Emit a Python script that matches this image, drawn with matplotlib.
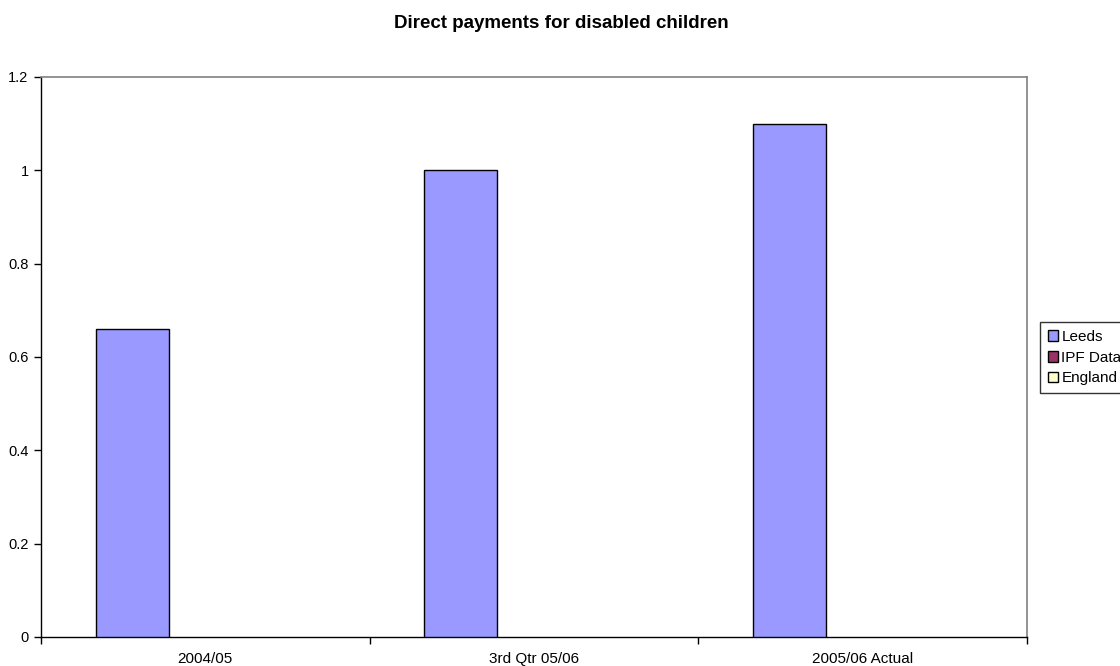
import numpy as np
import matplotlib
matplotlib.use("Agg")
import matplotlib.pyplot as plt
from matplotlib.ticker import FuncFormatter, FixedLocator
from matplotlib.patches import Patch

categories = ["2004/05", "3rd Qtr 05/06", "2005/06 Actual"]
leeds = [0.66, 1.0, 1.1]
ipf_data = [np.nan, np.nan, np.nan]
england = [np.nan, np.nan, np.nan]
series_names = ["Leeds", "IPF Data", "England"]
colors = ["#9999FF", "#993366", "#FFFFCC"]

plt.rcParams['font.family'] = ['Liberation Sans', 'DejaVu Sans']

fig = plt.figure(figsize=(11.2, 6.66), dpi=100)
ax = fig.add_axes([41/1120, 1-637/666, (1027-41)/1120, (637-77)/666])

n = len(categories)
centers = np.arange(n) + 0.5
bw = 1/4.5
for i, (vals, c) in enumerate(zip([leeds, ipf_data, england], colors)):
    v = np.array(vals, dtype=float)
    mask = ~np.isnan(v)
    ax.bar(centers[mask] + (i-1)*bw, v[mask], width=bw, color=c,
           edgecolor='black', linewidth=1.0, zorder=3)

ax.set_xlim(0, n)
ax.set_ylim(0, 1.2)
ax.set_yticks(np.arange(0, 1.21, 0.2))
ax.yaxis.set_major_formatter(FuncFormatter(lambda v, p: f"{v:g}"))
ax.tick_params(axis='y', direction='out', length=5, width=1, labelsize=10.5, pad=4, colors='black')

ax.xaxis.set_major_locator(FixedLocator(np.arange(0, n+1)))
ax.xaxis.set_major_formatter(FuncFormatter(lambda v, p: ""))
ax.xaxis.set_minor_locator(FixedLocator(centers))
ax.set_xticklabels(categories, minor=True)
ax.tick_params(axis='x', which='major', direction='out', length=5, width=1)
ax.tick_params(axis='x', which='minor', length=0, labelsize=11, pad=10.5)

for s in ['top', 'right']:
    ax.spines[s].set_color('#808080')
    ax.spines[s].set_linewidth(1.2)
for s in ['left', 'bottom']:
    ax.spines[s].set_color('black')
    ax.spines[s].set_linewidth(1.0)

fig.text(561/1120, 1-23/666, "Direct payments for disabled children", ha='center', va='center',
         fontsize=13.5, fontweight='bold')

handles = [Patch(facecolor=c, edgecolor='black', linewidth=1.0) for c in colors]
leg = fig.legend(handles, series_names, loc='upper left',
                 bbox_to_anchor=(1040/1120, 1-322/666), fontsize=11,
                 frameon=True, fancybox=False, edgecolor='black',
                 handlelength=0.7, handleheight=0.7, handletextpad=0.2,
                 borderpad=0.5, labelspacing=0.45, borderaxespad=0)
leg.get_frame().set_linewidth(1.0)

fig.savefig("out.png", dpi=100)
